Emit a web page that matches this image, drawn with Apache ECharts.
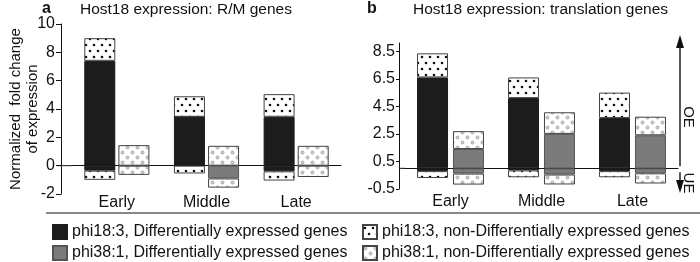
<!DOCTYPE html>
<html>
<head>
<meta charset="utf-8">
<script src="https://cdn.jsdelivr.net/npm/echarts@6/dist/echarts.min.js"></script>
<style>
html, body { margin: 0; padding: 0; background: #fff; }
#chart { width: 700px; height: 262px; }
</style>
</head>
<body>
<div id="chart"></div>
<script>
// categories
var categories = ['Early', 'Middle', 'Late'];

// panel a: R/M genes (segment sizes, stacked)
var rmPhi18DeUp = [7.4, 3.45, 3.45];
var rmPhi18NonUp = [1.6, 1.45, 1.6];
var rmPhi18DeDown = [-0.35, 0, -0.4];
var rmPhi18NonDown = [-0.65, -0.55, -0.65];
var rmPhi38DeUp = [0, 0, 0];
var rmPhi38NonUp = [1.45, 1.4, 1.4];
var rmPhi38DeDown = [0, -0.9, 0];
var rmPhi38NonDown = [-0.65, -0.65, -0.8];

// panel b: translation genes
var trPhi18DeUp = [6.6, 5.1, 3.65];
var trPhi18NonUp = [1.75, 1.5, 1.85];
var trPhi18DeDown = [-0.2, -0.15, -0.2];
var trPhi18NonDown = [-0.5, -0.5, -0.45];
var trPhi38DeUp = [1.4, 2.5, 2.4];
var trPhi38NonUp = [1.3, 1.57, 1.35];
var trPhi38DeDown = [-0.38, -0.45, -0.36];
var trPhi38NonDown = [-0.8, -0.72, -0.74];

// tick labels of panel b (last label is printed as -0.5 in the figure)
var trTickValues = [-1.5, 0.5, 2.5, 4.5, 6.5, 8.5];
var trTickLabels = ['-0.5', '0.5', '2.5', '4.5', '6.5', '8.5'];

var N18DE = 'phi18:3, Differentially expressed genes';
var N38DE = 'phi38:1, Differentially expressed genes';
var N18NON = 'phi18:3, non-Differentially expressed genes';
var N38NON = 'phi38:1, non-Differentially expressed genes';

var FONT = '"Liberation Sans", Arial, sans-serif';

function makePattern(w, h, dots, fill, stroke, r) {
    var c = document.createElement('canvas');
    c.width = w; c.height = h;
    var g = c.getContext('2d');
    g.fillStyle = '#fff';
    g.fillRect(0, 0, w, h);
    dots.forEach(function (d) {
        g.beginPath();
        g.arc(d[0], d[1], r, 0, Math.PI * 2);
        g.fillStyle = fill;
        g.fill();
        if (stroke) { g.strokeStyle = stroke; g.lineWidth = 0.8; g.stroke(); }
    });
    return { image: c, repeat: 'repeat' };
}

var dots18 = makePattern(8, 12, [[2, 3], [6, 9]], '#111', null, 1.3);
var dots38 = makePattern(10, 10, [[2.5, 2.5], [7.5, 7.5]], '#d0d0d0', '#9a9a9a', 1.5);

var styles = {};
styles[N18DE] = { color: '#1c1c1c', borderColor: '#1c1c1c', borderWidth: 1 };
styles[N38DE] = { color: '#7b7b7b', borderColor: '#555', borderWidth: 1 };
styles[N18NON] = { color: dots18, borderColor: '#444', borderWidth: 1 };
styles[N38NON] = { color: dots38, borderColor: '#444', borderWidth: 1 };

function bar(name, data, stack, idx, gap) {
    return {
        type: 'bar', name: name, data: data, stack: stack,
        xAxisIndex: idx * 2, yAxisIndex: idx,
        barWidth: 31, barGap: gap,
        itemStyle: styles[name],
        emphasis: { disabled: true },
        animation: false
    };
}

var series = [
    bar(N18DE, rmPhi18DeUp, 'a18', 0, '10%'),
    bar(N18DE, rmPhi18DeDown, 'a18', 0, '10%'),
    bar(N18NON, rmPhi18NonUp, 'a18', 0, '10%'),
    bar(N18NON, rmPhi18NonDown, 'a18', 0, '10%'),
    bar(N38DE, rmPhi38DeUp, 'a38', 0, '10%'),
    bar(N38DE, rmPhi38DeDown, 'a38', 0, '10%'),
    bar(N38NON, rmPhi38NonUp, 'a38', 0, '10%'),
    bar(N38NON, rmPhi38NonDown, 'a38', 0, '10%'),

    bar(N18DE, trPhi18DeUp, 'b18', 1, '16%'),
    bar(N18DE, trPhi18DeDown, 'b18', 1, '16%'),
    bar(N18NON, trPhi18NonUp, 'b18', 1, '16%'),
    bar(N18NON, trPhi18NonDown, 'b18', 1, '16%'),
    bar(N38DE, trPhi38DeUp, 'b38', 1, '16%'),
    bar(N38DE, trPhi38DeDown, 'b38', 1, '16%'),
    bar(N38NON, trPhi38NonUp, 'b38', 1, '16%'),
    bar(N38NON, trPhi38NonDown, 'b38', 1, '16%')
];

// layout
var gridA = { left: 72, top: 24, width: 269, height: 170 };
var gridB = { left: 405, top: 43, width: 273, height: 146 };
var offA = 11, offB = 6;

function zeroAxis(gi) {
    return {
        type: 'category', gridIndex: gi, data: categories, position: 'bottom',
        axisLine: { onZero: true, lineStyle: { color: '#111', width: 1 } },
        axisTick: {
            length: 4, lineStyle: { color: '#111' },
            interval: function (i) { return i > 0; }
        },
        axisLabel: { show: false }
    };
}
function labelAxis(gi, margin) {
    return {
        type: 'category', gridIndex: gi, data: categories, position: 'bottom',
        axisLine: { show: false, onZero: false }, axisTick: { show: false },
        axisLabel: { margin: margin, fontSize: 16, color: '#111', fontFamily: FONT }
    };
}

var legendText = { fontSize: 16, color: '#111', fontFamily: FONT, lineHeight: 15 };
var titleText = { fontSize: 15.5, fontWeight: 'normal', color: '#111', fontFamily: FONT };

var chart = echarts.init(document.getElementById('chart'));
chart.setOption({
    animation: false,
    textStyle: { fontFamily: FONT },
    title: [
        { text: 'a', left: 42, top: 1, padding: 0, textStyle: { fontSize: 16, fontWeight: 'bold', color: '#111', fontFamily: FONT } },
        { text: 'Host18 expression: R/M genes', left: 80, top: 2, padding: 0, textStyle: titleText },
        { text: 'b', left: 367, top: 1, padding: 0, textStyle: { fontSize: 16, fontWeight: 'bold', color: '#111', fontFamily: FONT } },
        { text: 'Host18 expression: translation genes', left: 413, top: 2, padding: 0, textStyle: titleText }
    ],
    legend: [
        {
            data: [N18DE, N38DE], orient: 'vertical', left: 52, top: 224, padding: 0,
            itemWidth: 14, itemHeight: 14, itemGap: 5, selectedMode: false, icon: 'rect',
            textStyle: legendText
        },
        {
            data: [N18NON, N38NON], orient: 'vertical', left: 362, top: 224, padding: 0,
            itemWidth: 14, itemHeight: 14, itemGap: 5, selectedMode: false, icon: 'rect',
            textStyle: legendText
        }
    ],
    grid: [gridA, gridB],
    xAxis: [zeroAxis(0), labelAxis(0, 1), zeroAxis(1), labelAxis(1, 5)],
    yAxis: [
        {
            type: 'value', gridIndex: 0, min: -2, max: 10, interval: 2, offset: offA,
            name: 'Normalized  fold change\nof expression', nameLocation: 'middle',
            nameRotate: 90, nameGap: 20, nameMoveOverlap: false,
            nameTextStyle: { fontSize: 15, color: '#111', fontFamily: FONT, lineHeight: 17 },
            axisLine: { show: true, lineStyle: { color: '#111' } },
            axisTick: { show: true, length: 5, lineStyle: { color: '#111' } },
            axisLabel: { margin: 6, fontSize: 16, color: '#111', fontFamily: FONT },
            splitLine: { show: false }
        },
        {
            type: 'value', gridIndex: 1, min: -1.5, max: 9.1, offset: offB,
            axisLine: { show: true, lineStyle: { color: '#111' } },
            axisTick: { show: true, length: 3, customValues: trTickValues, lineStyle: { color: '#111' } },
            axisLabel: {
                margin: 4, fontSize: 16, color: '#111', fontFamily: FONT,
                customValues: trTickValues,
                formatter: function (v) {
                    var i = trTickValues.indexOf(v);
                    return i >= 0 ? trTickLabels[i] : '';
                }
            },
            splitLine: { show: false }
        }
    ],
    series: series
});

// decorations: zero line stub to the y axis, legend rule, OE/UE arrow
var zA = chart.convertToPixel({ yAxisIndex: 0 }, 0);
var zB = chart.convertToPixel({ yAxisIndex: 1 }, 0);
var arrowX = 680;
chart.setOption({
    graphic: [
        { type: 'line', shape: { x1: gridA.left - offA - 4, y1: zA, x2: gridA.left, y2: zA }, style: { stroke: '#111', lineWidth: 1 } },
        { type: 'line', shape: { x1: gridB.left - offB, y1: zB, x2: gridB.left, y2: zB }, style: { stroke: '#111', lineWidth: 1 } },
        { type: 'line', shape: { x1: 46, y1: 213, x2: 700, y2: 213 }, style: { stroke: '#111', lineWidth: 1 } },
        { type: 'line', shape: { x1: arrowX, y1: 46, x2: arrowX, y2: zB - 2 }, style: { stroke: '#222', lineWidth: 1.5 } },
        { type: 'polygon', shape: { points: [[arrowX, 35], [arrowX - 4, 48], [arrowX + 4, 48]] }, style: { fill: '#111' } },
        { type: 'line', shape: { x1: arrowX, y1: zB + 4, x2: arrowX, y2: 182 }, style: { stroke: '#222', lineWidth: 1.5 } },
        { type: 'polygon', shape: { points: [[arrowX, 193], [arrowX - 4, 180], [arrowX + 4, 180]] }, style: { fill: '#111' } },
        { type: 'text', x: 688, y: 117, rotation: -Math.PI / 2, style: { text: 'OE', fontSize: 15, fill: '#111', fontFamily: FONT, align: 'center', verticalAlign: 'middle' } },
        { type: 'text', x: 688, y: 183, rotation: -Math.PI / 2, style: { text: 'UE', fontSize: 15, fill: '#111', fontFamily: FONT, align: 'center', verticalAlign: 'middle' } }
    ]
});
</script>
</body>
</html>
